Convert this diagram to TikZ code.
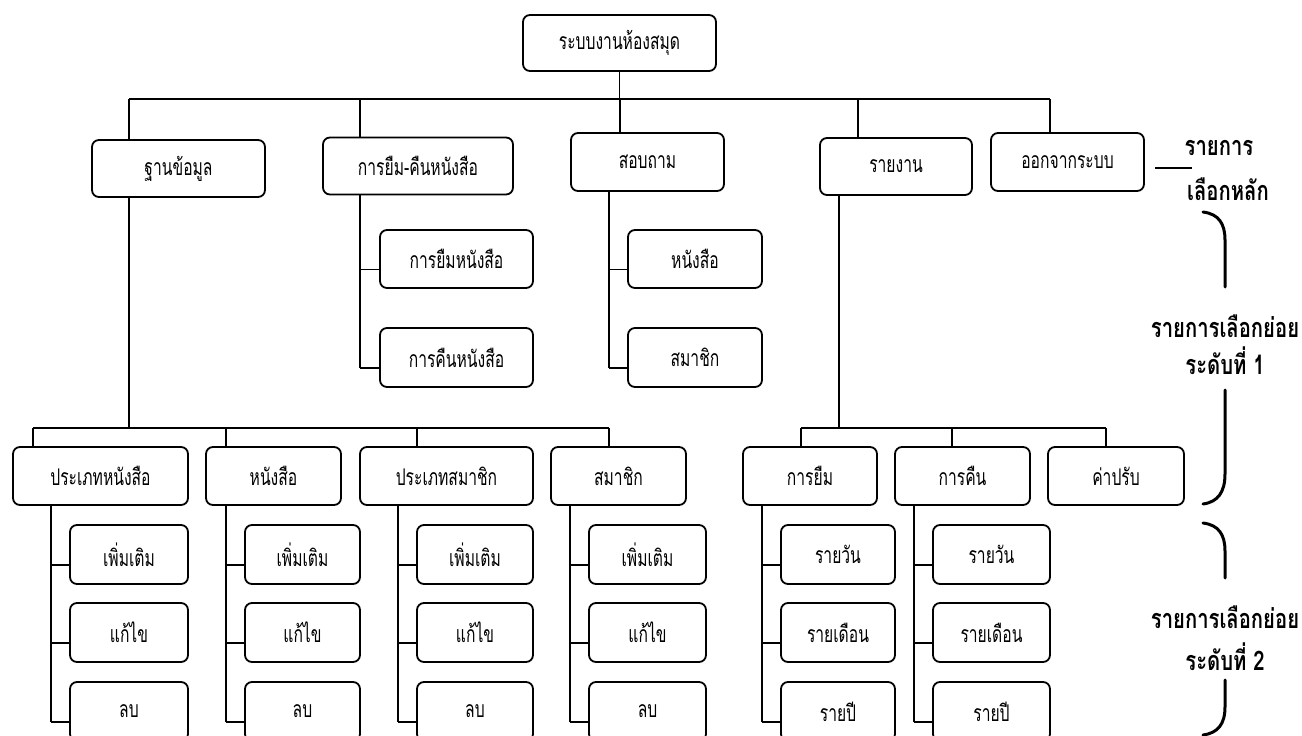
\documentclass[tikz,border=0pt]{standalone}
\usepackage{fontspec}
\newfontfamily\thai[Script=Thai,FakeStretch=0.68]{Loma}
\newfontfamily\thaiL[Script=Thai,FakeStretch=0.75]{Loma}
\usetikzlibrary{calc}
\begin{document}
\begin{tikzpicture}[x=1pt,y=-1pt,
  box/.style={draw, line width=1.8pt, rounded corners=7pt, inner sep=0pt,
    minimum height=57pt, font=\thai\fontsize{23}{26}\selectfont},
  conn/.style={line width=1.3pt},
  lab/.style={inner sep=0pt, font=\thaiL\bfseries\fontsize{27}{30}\selectfont},
  brk/.style={line width=3pt, line cap=round}]
\useasboundingbox (0,0) rectangle (1302,736);
\fill[white] (0,0) rectangle (1302,736);
\clip (0,0) rectangle (1302,736);

% root and main menu
\node[box, minimum width=193pt, minimum height=56pt] (root) at (619.5,43) {ระบบงานห้องสมุด};
\node[box, minimum width=173pt] (db)  at (178.5,168.5) {ฐานข้อมูล};
\node[box, minimum width=190pt] (bor) at (418,166) {การยืม-คืนหนังสือ};
\node[box, minimum width=153pt, minimum height=58pt] (inq) at (647.5,162) {สอบถาม};
\node[box, minimum width=152pt] (rep) at (896,166.5) {รายงาน};
\node[box, minimum width=153pt, minimum height=58pt] (ext) at (1067.5,162) {ออกจากระบบ};

\coordinate (busL) at (129,99);
\coordinate (busR) at (1050,99);
\draw[conn] (root.south) -- (root.south |- busL);
\draw[conn] (busL) -- (busR);
\coordinate (d1) at (129,99);
\coordinate (d2) at (360,99);
\coordinate (d3) at (620,99);
\coordinate (d4) at (858,99);
\coordinate (d5) at (1050,99);
\draw[conn] (d1) -- (d1 |- db.north);
\draw[conn] (d2) -- (d2 |- bor.north);
\draw[conn] (d3) -- (d3 |- inq.north);
\draw[conn] (d4) -- (d4 |- rep.north);
\draw[conn] (d5) -- (d5 |- ext.north);

% level 1 sub menus
\node[box, minimum width=153pt, minimum height=58pt] (bor1) at (456.5,259) {การยืมหนังสือ};
\node[box, minimum width=153pt, minimum height=59pt] (bor2) at (456.5,357.5) {การคืนหนังสือ};
\node[box, minimum width=134pt, minimum height=58pt] (inq1) at (695,259) {หนังสือ};
\node[box, minimum width=134pt, minimum height=59pt] (inq2) at (695,357.5) {สมาชิก};

\coordinate (borv) at (360,0);
\coordinate (inqv) at (609,0);
\foreach \c/\v in {bor1/borv, bor2/borv, inq1/inqv, inq2/inqv}{
  \coordinate (\c b) at ([yshift=-10.5pt]\c.west);
  \draw[conn] (\c b) -- (\c b -| \v);
}
\draw[conn] (borv |- bor.south) -- (borv |- bor2b);
\draw[conn] (inqv |- inq.south) -- (inqv |- inq2b);

% level 2 : database
\node[box, minimum width=175pt, minimum height=58pt] (bt) at (100.5,476) {ประเภทหนังสือ};
\node[box, minimum width=135pt, minimum height=58pt] (bk) at (273.5,476) {หนังสือ};
\node[box, minimum width=173pt, minimum height=58pt] (mt) at (446.5,476) {ประเภทสมาชิก};
\node[box, minimum width=135pt, minimum height=58pt] (mb) at (618.5,476) {สมาชิก};

\coordinate (dbbus) at (129,428);
\draw[conn] (dbbus |- db.south) -- (dbbus);
\coordinate (b2L) at (33,428);
\coordinate (b2R) at (609,428);
\draw[conn] (b2L) -- (b2R);
\coordinate (e1) at (33,428);
\coordinate (e2) at (226,428);
\coordinate (e3) at (417,428);
\coordinate (e4) at (609,428);
\draw[conn] (e1) -- (e1 |- bt.north);
\draw[conn] (e2) -- (e2 |- bk.north);
\draw[conn] (e3) -- (e3 |- mt.north);
\draw[conn] (e4) -- (e4 |- mb.north);

\foreach \p/\vx/\cx/\w in {bt/51/129/118, bk/226/302.5/115, mt/398/475/116, mb/570/647.5/117}{
  \node[box, minimum width=\w pt, minimum height=59pt] (\p c1) at (\cx,554.5) {เพิ่มเติม};
  \node[box, minimum width=\w pt, minimum height=59pt] (\p c2) at (\cx,632.5) {แก้ไข};
  \node[box, minimum width=\w pt, minimum height=59pt] (\p c3) at (\cx,711.5) {ลบ};
  \coordinate (\p v) at (\vx,0);
  \foreach \i in {1,2,3}{
    \coordinate (\p b\i) at ([yshift=-10.5pt]\p c\i.west);
    \draw[conn] (\p b\i) -- (\p b\i -| \p v);
  }
  \draw[conn] (\p v |- \p.south) -- (\p v |- \p b3);
}

% level 2 : report
\node[box, minimum width=134pt, minimum height=58pt] (rb) at (810,476) {การยืม};
\node[box, minimum width=135pt, minimum height=58pt] (rr) at (962.5,476) {การคืน};
\node[box, minimum width=136pt, minimum height=58pt] (rf) at (1116,476) {ค่าปรับ};

\coordinate (repbus) at (839,428);
\draw[conn] (repbus |- rep.south) -- (repbus);
\coordinate (r1) at (801,428);
\coordinate (r2) at (952,428);
\coordinate (r3) at (1106,428);
\draw[conn] (r1) -- (r3);
\draw[conn] (r1) -- (r1 |- rb.north);
\draw[conn] (r2) -- (r2 |- rr.north);
\draw[conn] (r3) -- (r3 |- rf.north);

\foreach \p/\vx/\cx/\w in {rb/762/838/114, rr/914/991.5/117}{
  \node[box, minimum width=\w pt, minimum height=59pt] (\p c1) at (\cx,554.5) {รายวัน};
  \node[box, minimum width=\w pt, minimum height=59pt] (\p c2) at (\cx,632.5) {รายเดือน};
  \node[box, minimum width=\w pt, minimum height=59pt] (\p c3) at (\cx,711.5) {รายปี};
  \coordinate (\p v) at (\vx,0);
  \foreach \i in {1,2,3}{
    \coordinate (\p b\i) at ([yshift=-10.5pt]\p c\i.west);
    \draw[conn] (\p b\i) -- (\p b\i -| \p v);
  }
  \draw[conn] (\p v |- \p.south) -- (\p v |- \p b3);
}

% right-hand annotations
\node[lab] (mainA) at (1219,148) {รายการ};
\node[lab] (mainB) at (1228,189) {เลือกหลัก};
\coordinate (dashL) at (1155,168);
\coordinate (dashR) at (1192,168);
\draw[line width=2.6pt] (dashL) -- (dashR);

\node[lab] (s1a) at (1225,326) {รายการเลือกย่อย};
\node[lab] (s1b) at (1225,361) {ระดับที่ 1};
\node[lab] (s2a) at (1225,617) {รายการเลือกย่อย};
\node[lab] (s2b) at (1225,657) {ระดับที่ 2};

\draw[brk] (1203,212) .. controls (1219,214) and (1225,224) .. (1225,240) -- (1225,287);
\draw[brk] (1225,390) -- (1225,474) .. controls (1225,492) and (1218,502) .. (1203,504);
\draw[brk] (1203,523) .. controls (1219,525) and (1225,535) .. (1225,551) -- (1225,578);
\draw[brk] (1225,680) -- (1225,707) .. controls (1225,724) and (1218,733) .. (1203,735);
\end{tikzpicture}
\end{document}
